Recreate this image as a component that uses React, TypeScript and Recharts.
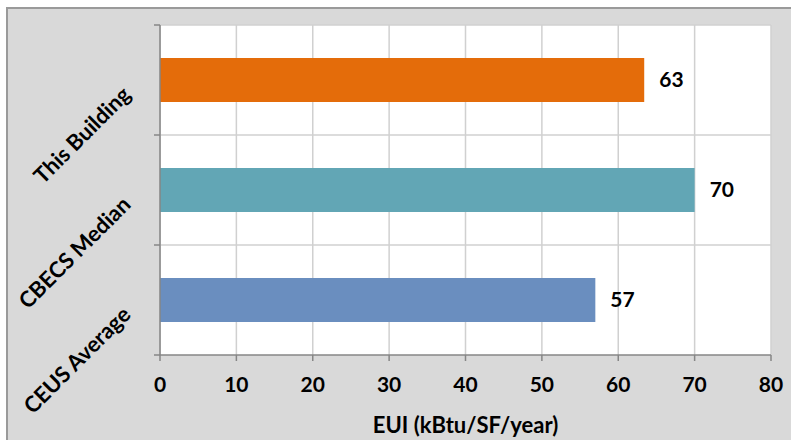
import React from 'react';
import { BarChart, Bar, XAxis, YAxis, CartesianGrid, Cell, LabelList } from 'recharts';

// Chart values
const CATEGORIES = ['This Building', 'CBECS Median', 'CEUS Average'];
const EUI_VALUES = [63.4, 70, 57];
const BAR_COLORS = ['#E46C0A', '#62A6B5', '#6A8EBF'];
const X_TICKS = [0, 10, 20, 30, 40, 50, 60, 70, 80];
const X_TITLE = 'EUI (kBtu/SF/year)';

const WIDTH = 791;
const HEIGHT = 440;
const MARGIN = { top: 25, right: 20, bottom: 0, left: 0 };
const Y_AXIS_WIDTH = 160;
const X_AXIS_HEIGHT = 85;
const PLOT_LEFT = MARGIN.left + Y_AXIS_WIDTH;
const PLOT_HEIGHT = HEIGHT - MARGIN.top - MARGIN.bottom - X_AXIS_HEIGHT;
const BAND = PLOT_HEIGHT / CATEGORIES.length;

const FONT = 'Lato, "Open Sans", sans-serif';
const AXIS_COLOR = '#868686';
const GRID_COLOR = '#d0d0d0';

const data = CATEGORIES.map((name, i) => ({ name, eui: EUI_VALUES[i] }));

// Category tick: rotated label plus tick marks on the band boundaries
const CategoryTick = ({ y, payload, index }: any) => {
  const top = y - BAND / 2;
  const bottom = y + BAND / 2;
  const ax = 126;
  const ay = y + 10;
  return (
    <g>
      <line x1={PLOT_LEFT - 6} x2={PLOT_LEFT} y1={top} y2={top} stroke={AXIS_COLOR} strokeWidth={1.5} />
      {index === CATEGORIES.length - 1 && (
        <line x1={PLOT_LEFT - 6} x2={PLOT_LEFT} y1={bottom} y2={bottom} stroke={AXIS_COLOR} strokeWidth={1.5} />
      )}
      <text
        x={ax}
        y={ay}
        transform={`rotate(-45, ${ax}, ${ay})`}
        textAnchor="end"
        dominantBaseline="central"
        fontFamily={FONT}
        fontWeight="bold"
        fontSize={22}
        fill="#000"
      >
        {payload.value}
      </text>
    </g>
  );
};

export default function App() {
  return (
    <div style={{ position: 'absolute', left: 0, top: 0, width: WIDTH, height: HEIGHT, overflow: 'hidden' }}>
      <div
        style={{
          position: 'absolute',
          left: 6,
          top: 7,
          width: WIDTH + 20,
          height: HEIGHT + 20,
          background: '#d9d9d9',
          border: '2px solid #9a9a9a',
        }}
      />
      <div style={{ position: 'absolute', left: 0, top: 0 }}>
        <BarChart width={WIDTH} height={HEIGHT} data={data} layout="vertical" margin={MARGIN}>
          <CartesianGrid
            fill="#ffffff"
            stroke={GRID_COLOR}
            strokeWidth={1.5}
            horizontalCoordinatesGenerator={({ offset }: any) =>
              CATEGORIES.map((_, i) => offset.top + (i * offset.height) / CATEGORIES.length)
            }
          />
          <XAxis
            type="number"
            domain={[0, 80]}
            ticks={X_TICKS}
            interval={0}
            height={X_AXIS_HEIGHT}
            tickSize={6}
            tickMargin={16}
            axisLine={{ stroke: AXIS_COLOR, strokeWidth: 1.5 }}
            tickLine={{ stroke: AXIS_COLOR, strokeWidth: 1.5 }}
            tick={{ fill: '#000', fontFamily: FONT, fontWeight: 'bold', fontSize: 21 }}
            label={{
              value: X_TITLE,
              position: 'insideBottom',
              offset: 7,
              fill: '#000',
              fontFamily: FONT,
              fontWeight: 'bold',
              fontSize: 22,
            }}
          />
          <YAxis
            type="category"
            dataKey="name"
            width={Y_AXIS_WIDTH}
            interval={0}
            tickLine={false}
            axisLine={{ stroke: AXIS_COLOR, strokeWidth: 1.5 }}
            tick={<CategoryTick />}
          />
          <Bar dataKey="eui" barSize={44} isAnimationActive={false}>
            {data.map((d, i) => (
              <Cell key={d.name} fill={BAR_COLORS[i]} />
            ))}
            <LabelList
              dataKey="eui"
              position="right"
              offset={15}
              formatter={(v: any) => Math.round(Number(v))}
              fill="#000"
              fontFamily={FONT}
              fontWeight="bold"
              fontSize={21}
            />
          </Bar>
        </BarChart>
      </div>
    </div>
  );
}
